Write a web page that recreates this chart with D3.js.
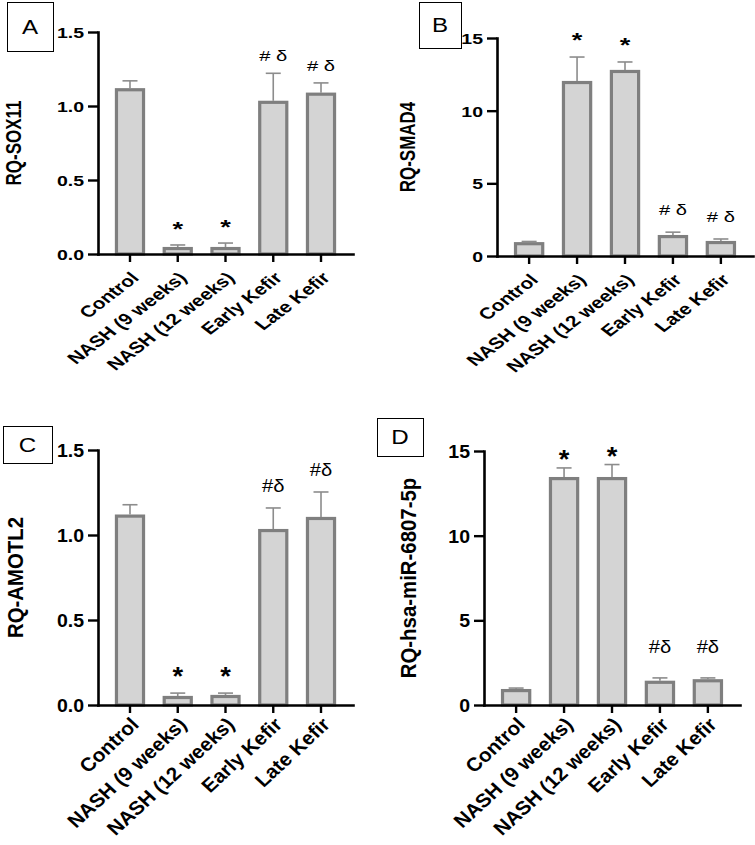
<!DOCTYPE html>
<html>
<head>
<meta charset="utf-8">
<script src="https://cdn.jsdelivr.net/npm/d3@7/dist/d3.min.js"></script>
<style>
  html, body { margin: 0; padding: 0; background: #fff; }
  svg { display: block; }
  text { font-family: "Liberation Sans", Arial, sans-serif; }
</style>
</head>
<body>
<svg id="fig" width="755" height="845"></svg>
<script>
// ---------- data ----------
const categories = ["Control", "NASH (9 weeks)", "NASH (12 weeks)", "Early Kefir", "Late Kefir"];

const sox11Values = [1.12, 0.047, 0.047, 1.035, 1.09];
const sox11Errors = [0.05, 0.014, 0.027, 0.186, 0.066];
const sox11Marks  = ["", "*", "*", "# δ", "# δ"];

const smad4Values = [0.95, 12.04, 12.8, 1.44, 1.03];
const smad4Errors = [0.05, 1.65, 0.55, 0.2, 0.14];
const smad4Marks  = ["", "*", "*", "# δ", "# δ"];

const amotl2Values = [1.12, 0.053, 0.059, 1.035, 1.106];
const amotl2Errors = [0.058, 0.017, 0.011, 0.124, 0.147];
const amotl2Marks  = ["", "*", "*", "#δ", "#δ"];

const mirValues = [0.94, 13.46, 13.46, 1.43, 1.52];
const mirErrors = [0.06, 0.54, 0.74, 0.17, 0.08];
const mirMarks  = ["", "*", "*", "#δ", "#δ"];

const ticksFraction = [0, 0.5, 1.0, 1.5];
const ticksFold = [0, 5, 10, 15];

// ---------- layout ----------
const panels = [
  { letter: "A", yLabel: "RQ-SOX11", values: sox11Values, errors: sox11Errors, marks: sox11Marks,
    ticks: ticksFraction, fmt: ".1f", left: 98, right: 353, y0: 254, yTop: 32,
    sx: 1.3, sy: 1.0, box: [7, 2, 46, 49], yLabX: 13, starOff: 9, hashOff: 12, labDy: 21 },
  { letter: "B", yLabel: "RQ-SMAD4", values: smad4Values, errors: smad4Errors, marks: smad4Marks,
    ticks: ticksFold, fmt: "d", left: 497, right: 753, y0: 256, yTop: 38,
    sx: 1.3, sy: 1.0, box: [419, 2, 42, 46], yLabX: 407, starOff: 10, hashOff: 17, labDy: 21 },
  { letter: "C", yLabel: "RQ-AMOTL2", values: amotl2Values, errors: amotl2Errors, marks: amotl2Marks,
    ticks: ticksFraction, fmt: ".1f", left: 98, right: 353, y0: 705, yTop: 450,
    sx: 1.3, sy: 1.2, box: [3, 426, 49, 37], yLabX: 15, starOff: 8, hashOff: 16, labDy: 16 },
  { letter: "D", yLabel: "RQ-hsa-miR-6807-5p", values: mirValues, errors: mirErrors, marks: mirMarks,
    ticks: ticksFold, fmt: "d", left: 484, right: 740, y0: 705, yTop: 451,
    sx: 1.3, sy: 1.2, box: [377, 418, 46, 38], yLabX: 408, starOff: 0, hashOff: 25, labDy: 16 }
];

const svg = d3.select("#fig");
svg.append("rect").attr("width", 755).attr("height", 845).attr("fill", "#fff");

const barFill = "#d4d4d4", barStroke = "#7f7f7f", errStroke = "#8c8c8c";

panels.forEach(p => {
  const g = svg.append("g");
  const x = d3.scaleBand().domain(categories).range([p.left, p.right])
    .paddingInner(0.37).paddingOuter(0.355);
  const y = d3.scaleLinear().domain([0, p.ticks[p.ticks.length - 1]]).range([p.y0, p.yTop]);

  // bars
  g.selectAll("rect.bar").data(categories).join("rect")
    .attr("class", "bar")
    .attr("x", d => x(d) + 1.5)
    .attr("width", x.bandwidth() - 3)
    .attr("y", (d, i) => y(p.values[i]) + 1.5)
    .attr("height", (d, i) => Math.max(0, y(0) - y(p.values[i]) - 1.5))
    .attr("fill", barFill).attr("stroke", barStroke).attr("stroke-width", 3.2);

  // error bars
  const cx = d => x(d) + x.bandwidth() / 2;
  g.selectAll("line.err").data(categories).join("line")
    .attr("x1", cx).attr("x2", cx)
    .attr("y1", (d, i) => y(p.values[i]))
    .attr("y2", (d, i) => y(p.values[i] + p.errors[i]))
    .attr("stroke", errStroke).attr("stroke-width", 1.6);
  g.selectAll("line.cap").data(categories).join("line")
    .attr("x1", d => cx(d) - 7.5).attr("x2", d => cx(d) + 7.5)
    .attr("y1", (d, i) => y(p.values[i] + p.errors[i]))
    .attr("y2", (d, i) => y(p.values[i] + p.errors[i]))
    .attr("stroke", errStroke).attr("stroke-width", 1.6);

  // significance marks
  g.selectAll("text.mark").data(categories).join("text")
    .attr("text-anchor", "middle")
    .attr("transform", (d, i) => {
      const top = y(p.values[i] + p.errors[i]);
      const off = p.marks[i] === "*" ? p.starOff : p.hashOff;
      return `translate(${cx(d)},${top - off}) scale(${p.sx},${p.sy})`;
    })
    .attr("font-size", (d, i) => p.marks[i] === "*" ? 21 : 15.5)
    .attr("font-weight", (d, i) => p.marks[i] === "*" ? "bold" : "normal")
    .attr("fill", "#000")
    .text((d, i) => p.marks[i]);

  // y axis
  const ya = g.append("g").attr("transform", `translate(${p.left},0)`)
    .call(d3.axisLeft(y).tickValues(p.ticks).tickFormat(d3.format(p.fmt)).tickSize(10).tickSizeOuter(0));
  ya.select(".domain").attr("stroke", "#000").attr("stroke-width", 2.6).attr("stroke-linecap", "square");
  ya.selectAll(".tick line").attr("stroke", "#000").attr("stroke-width", 2.4);
  ya.selectAll(".tick text")
    .attr("x", null).attr("dy", "0.36em")
    .attr("transform", `translate(-14,0) scale(${p.sx},${p.sy})`)
    .attr("font-size", 15).attr("font-weight", "bold").attr("fill", "#000")
    .attr("font-family", "'Liberation Sans', Arial, sans-serif");

  // x axis
  const xa = g.append("g").attr("transform", `translate(0,${p.y0})`)
    .call(d3.axisBottom(x).tickSize(8).tickSizeOuter(0));
  xa.select(".domain").attr("stroke", "#000").attr("stroke-width", 2.6).attr("stroke-linecap", "square");
  xa.selectAll(".tick line").attr("stroke", "#000").attr("stroke-width", 2.4);
  xa.selectAll(".tick text")
    .attr("y", null).attr("dy", "0.35em")
    .attr("text-anchor", "end")
    .attr("transform", `translate(5,${p.labDy}) scale(${p.sx},${p.sy}) rotate(-45)`)
    .attr("font-size", 16).attr("font-weight", "bold").attr("fill", "#000")
    .attr("font-family", "'Liberation Sans', Arial, sans-serif");

  // y label
  g.append("text")
    .attr("transform", `translate(${p.yLabX},${(p.y0 + p.yTop) / 2}) scale(${p.sx},${p.sy}) rotate(-90)`)
    .attr("text-anchor", "middle").attr("dy", "0.36em")
    .attr("font-size", 17).attr("font-weight", "bold").attr("fill", "#000")
    .text(p.yLabel);

  // panel letter box
  const [bx, by, bw, bh] = p.box;
  g.append("rect").attr("x", bx + 0.5).attr("y", by + 0.5).attr("width", bw).attr("height", bh)
    .attr("fill", "#fff").attr("stroke", "#000").attr("stroke-width", 1);
  g.append("text")
    .attr("transform", `translate(${bx + bw / 2},${by + bh / 2}) scale(1.15,1)`)
    .attr("text-anchor", "middle").attr("dy", "0.35em")
    .attr("font-family", "'Liberation Serif', 'Times New Roman', serif")
    .attr("font-size", 21).attr("fill", "#000")
    .text(p.letter);
});
</script>
</body>
</html>
